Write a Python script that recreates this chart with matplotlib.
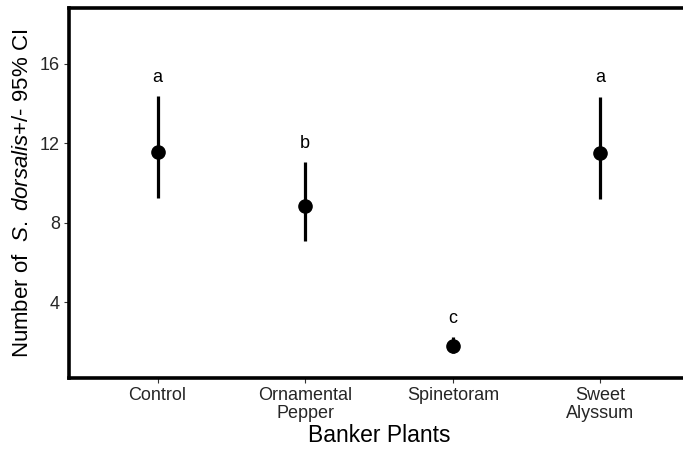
import matplotlib.pyplot as plt

plt.rcParams['font.family'] = 'Liberation Sans'
plt.rcParams['mathtext.fontset'] = 'custom'
plt.rcParams['mathtext.rm'] = 'Liberation Sans'
plt.rcParams['mathtext.it'] = 'Liberation Sans:italic'

# data
plants = ['Control', 'Ornamental\nPepper', 'Spinetoram', 'Sweet\nAlyssum']
means = [11.55, 8.84, 1.81, 11.5]
lower = [9.25, 7.09, 1.46, 9.2]
upper = [14.37, 11.05, 2.26, 14.32]
letters = ['a', 'b', 'c', 'a']
letter_y = [15.3, 12.0, 3.17, 15.3]

x = list(range(1, len(plants) + 1))

fig = plt.figure(figsize=(6.83, 4.51), dpi=100)
ax = fig.add_axes([69/683, 73/451, 620/683, 370/451])

ax.vlines(x, lower, upper, color='black', lw=2.3)
ax.plot(x, means, 'o', color='black', markersize=9.5, ls='')
for xi, yi, l in zip(x, letter_y, letters):
    ax.text(xi, yi, l, ha='center', va='center', fontsize=13)

ax.set_xlim(0.4, 4.6)
ax.set_ylim(0.2, 18.8)
ax.set_yticks([4, 8, 12, 16])
ax.set_xticks(x)
ax.set_xticklabels(plants, fontsize=13, color='#262626', linespacing=1.1)
ax.tick_params(axis='y', labelsize=13, labelcolor='#262626')
ax.tick_params(length=3.5, width=0.8, color='#333333', pad=3)

for s in ax.spines.values():
    s.set_linewidth(2.6)

ax.set_xlabel('Banker Plants', fontsize=16.5, labelpad=1)
ax.set_ylabel('Number of  $\\mathit{S.\\ dorsalis}$+/- 95% CI', fontsize=16, labelpad=5)

plt.savefig('out.png', dpi=100)
